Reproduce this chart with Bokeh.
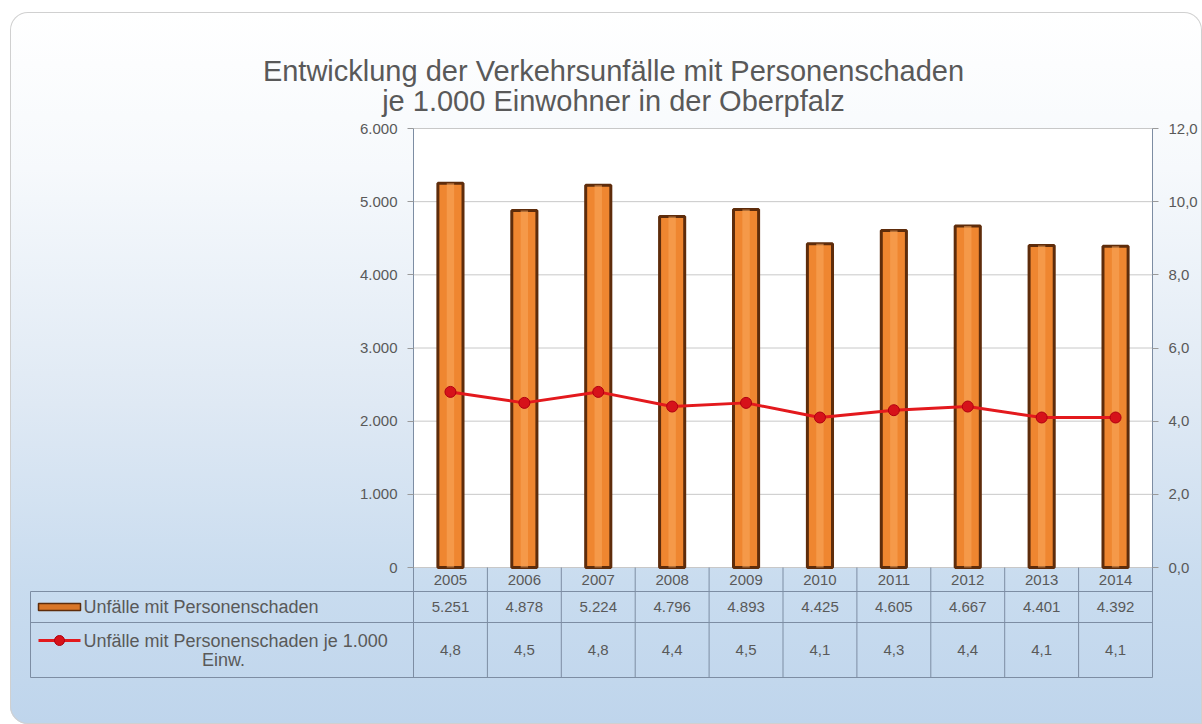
from bokeh.plotting import figure
from bokeh.models import (ColumnDataSource, Range1d, LinearAxis, FixedTicker, BoxAnnotation)
from bokeh.embed import file_html
from bokeh.resources import INLINE
from bokeh.core.properties import value

# ---------------- data ----------------
years = ["2005", "2006", "2007", "2008", "2009", "2010", "2011", "2012", "2013", "2014"]
unfaelle = [5251, 4878, 5224, 4796, 4893, 4425, 4605, 4667, 4401, 4392]
je_1000 = [4.8, 4.5, 4.8, 4.4, 4.5, 4.1, 4.3, 4.4, 4.1, 4.1]
series_names = ["Unfälle mit Personenschaden", "Unfälle mit Personenschaden je 1.000", "Einw."]
title_lines = ["Entwicklung der Verkehrsunfälle mit Personenschaden",
               "je 1.000 Einwohner in der Oberpfalz"]
left_ticks = [0, 1000, 2000, 3000, 4000, 5000, 6000]
left_tick_labels = ["0", "1.000", "2.000", "3.000", "4.000", "5.000", "6.000"]
right_ticks = [0, 2, 4, 6, 8, 10, 12]
right_tick_labels = ["0,0", "2,0", "4,0", "6,0", "8,0", "10,0", "12,0"]

n = len(years)
idx = list(range(n))
src = ColumnDataSource(dict(
    x=idx, year=years, u=unfaelle, r=je_1000,
    u_lbl=[f"{v:,}".replace(",", ".") for v in unfaelle],
    r_lbl=[f"{v:.1f}".replace(".", ",") for v in je_1000],
))

# ---------------- layout (page pixels) ----------------
OX, OY = 10, 12                  # panel origin on page
PW, PH = 1192, 712               # panel size
PX_L, PX_R = 413, 1152           # plot area left/right
PY_T, PY_0, PY_HDR, PY_R1, PY_BOT = 128, 567, 591, 622, 677
T_LEFT = 30

FONT = "Liberation Sans"
TXT = "#595959"
GRID = "#c8c8c8"
TBL = "#7d8da3"
AXC = "#9a9a9a"

ux = (PX_R - PX_L) / n
uy = 6000.0 / (PY_0 - PY_T)
ur = 12.0 / (PY_0 - PY_T)


def xd(px):  # page px -> category index coordinate
    return (px - PX_L) / ux - 0.5


def yd(py):  # page px -> left-axis value
    return (PY_0 - py) * uy


def rd(py):  # page px -> right-axis value
    return (PY_0 - py) * ur


p = figure(width=PW, height=PH,
           x_range=Range1d(xd(OX), xd(OX + PW)),
           y_range=Range1d(yd(OY + PH), yd(OY)),
           output_backend="svg", toolbar_location=None, x_axis_location=None,
           min_border=0, border_fill_alpha=0, background_fill_alpha=0,
           outline_line_color=None)
p.styles = {
    "background": "linear-gradient(180deg, #ffffff 0%, #f6f9fc 22%, #dfe9f4 55%, #c9dcef 80%, #bfd5ec 100%)",
    "border-radius": "18px 18px 0 18px",
    "box-shadow": "inset 0 0 0 1px #d0d0d0",
    "margin-left": f"{OX}px",
    "margin-top": f"{OY}px",
}
p.grid.visible = False

# white plot area
p.add_layout(BoxAnnotation(left=-0.5, right=n - 0.5, bottom=0, top=6000, fill_color="white",
                           fill_alpha=1, line_color=None, level="underlay"))
# horizontal grid lines
p.segment(x0=[-0.5] * len(left_ticks), x1=[n - 0.5] * len(left_ticks), y0=left_ticks,
          y1=left_ticks, line_color=GRID, line_width=1)

# ---------------- axes ----------------
p.extra_y_ranges = {"rate": Range1d(rd(OY + PH), rd(OY))}
ax1 = p.yaxis[0]
ax1.ticker = FixedTicker(ticks=left_ticks)
ax1.major_label_overrides = dict(zip(left_ticks, left_tick_labels))
ax1.fixed_location = -0.5
ax1.bounds = (yd(PY_HDR), 6000)
ax2 = LinearAxis(y_range_name="rate", ticker=FixedTicker(ticks=right_ticks),
                 major_label_overrides=dict(zip(right_ticks, right_tick_labels)),
                 fixed_location=n - 0.5, bounds=(rd(PY_HDR), 12))
p.add_layout(ax2, "right")
for ax in (ax1, ax2):
    ax.axis_line_color = TBL
    ax.major_tick_line_color = AXC
    ax.major_tick_out = 6
    ax.major_tick_in = 0
    ax.minor_tick_line_color = None
    ax.major_label_text_font = FONT
    ax.major_label_text_font_size = "15px"
    ax.major_label_text_color = TXT
    ax.major_label_standoff = 10

# ---------------- bars ----------------
p.vbar(x="x", top="u", width=0.34, source=src, fill_color="#ef8630",
       line_color="#5e2c0b", line_width=3)
p.vbar(x="x", top="u", width=0.1, source=src, fill_color="#f9aa5e",
       fill_alpha=0.55, line_color=None)

# ---------------- line ----------------
p.line(x="x", y="r", source=src, y_range_name="rate", line_color="#e3191d", line_width=3)
p.scatter(x="x", y="r", source=src, y_range_name="rate", size=11,
          fill_color="#d6121a", line_color="#b00010", line_width=1)

# ---------------- title ----------------
p.text(x=[xd(613)] * 2, y=[yd(70), yd(100)], text=title_lines, text_align="center",
       text_baseline="middle", text_font=value(FONT), text_font_size="29px", text_color=TXT)

# ---------------- data table ----------------
bounds = [i - 0.5 for i in range(n + 1)]
xl, xr = xd(T_LEFT), n - 0.5
hy = [yd(PY_HDR), yd(PY_R1), yd(PY_BOT)]
p.segment(x0=[xl] * 3, y0=hy, x1=[xr] * 3, y1=hy, line_color=TBL, line_width=1)
p.segment(x0=bounds, y0=[yd(PY_0)] * (n + 1), x1=bounds, y1=[yd(PY_BOT)] * (n + 1),
          line_color=TBL, line_width=1)
p.segment(x0=[xl], y0=[yd(PY_HDR)], x1=[xl], y1=[yd(PY_BOT)], line_color=TBL, line_width=1)

tcommon = dict(text_align="center", text_baseline="middle", text_font=value(FONT),
               text_font_size="15px", text_color=TXT)
p.text(x="x", y=yd(579), text="year", source=src, **tcommon)
p.text(x="x", y=yd(606), text="u_lbl", source=src, **tcommon)
p.text(x="x", y=yd(649), text="r_lbl", source=src, **tcommon)

# legend keys
p.quad(left=[xd(38)], right=[xd(80)], top=[yd(603)], bottom=[yd(610)], fill_color="#d97628",
       line_color="#5e2c0b", line_width=1.5)
p.line(x=[xd(38), xd(80)], y=[yd(640)] * 2, line_color="#e3191d", line_width=3)
p.scatter(x=[xd(59)], y=[yd(640)], size=10, fill_color="#d6121a", line_color="#b00010")

lab = dict(text_baseline="middle", text_font=value(FONT), text_font_size="18px", text_color=TXT)
p.text(x=[xd(83)] * 2, y=[yd(606), yd(640)], text=series_names[:2], text_align="left", **lab)
p.text(x=[xd(223)], y=[yd(659)], text=series_names[2:], text_align="center", **lab)

open("out.html", "w").write(file_html(p, INLINE))
